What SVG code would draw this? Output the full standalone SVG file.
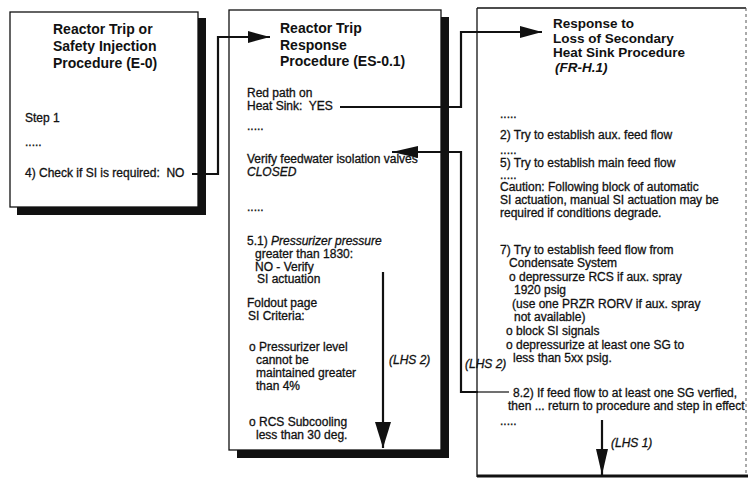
<svg xmlns="http://www.w3.org/2000/svg" width="748" height="479" viewBox="0 0 748 479">
<style>
  text { font-family: "Liberation Sans", Arial, sans-serif; fill: #111; white-space: pre; }
  .t { font-size: 14px; font-weight: bold; }
  .t3 { font-size: 13.5px; font-weight: bold; }
  .b { font-size: 12px; stroke: #111; stroke-width: 0.3; }
  .i { font-style: italic; }
  .box { fill: #ffffff; stroke: #111; stroke-width: 1.3; }
  .shadow { fill: #111; }
  .conn { fill: none; stroke: #111; stroke-width: 2.2; }
</style>
<defs>
  <marker id="ah" markerUnits="userSpaceOnUse" markerWidth="22" markerHeight="12" refX="22" refY="6" orient="auto">
    <path d="M0,0 L22,6 L0,12 z" fill="#111"/>
  </marker>
  <marker id="ahBig" markerUnits="userSpaceOnUse" markerWidth="26" markerHeight="16" refX="26" refY="8" orient="auto">
    <path d="M0,0 L26,8 L0,16 z" fill="#111"/>
  </marker>
  <marker id="ahMed" markerUnits="userSpaceOnUse" markerWidth="26" markerHeight="12" refX="26" refY="6" orient="auto">
    <path d="M0,0 L26,6 L0,12 z" fill="#111"/>
  </marker>
</defs>
<rect width="748" height="479" fill="#ffffff"/>

<g id="e0">
  <rect class="shadow" x="198" y="18" width="8" height="197"/>
  <rect class="shadow" x="17" y="207" width="189" height="8"/>
  <rect class="box" x="10" y="12" width="188" height="195"/>
  <text class="t" x="53" y="34">Reactor Trip or</text>
  <text class="t" x="53" y="51">Safety Injection</text>
  <text class="t" x="53" y="68">Procedure (E-0)</text>
  <text class="b" x="25" y="122">Step 1</text>
  <text class="b" x="25" y="146">.....</text>
  <text class="b" x="25" y="177">4) Check if SI is required:  NO</text>
</g>

<g id="es01">
  <rect class="shadow" x="441" y="17" width="8" height="441"/>
  <rect class="shadow" x="237" y="450" width="212" height="8"/>
  <rect class="box" x="229" y="10" width="212" height="440"/>
  <text class="t" x="280" y="33">Reactor Trip</text>
  <text class="t" x="280" y="49.5">Response</text>
  <text class="t" x="280" y="66">Procedure (ES-0.1)</text>
  <text class="b" x="247" y="97">Red path on</text>
  <text class="b" x="247" y="110">Heat Sink:  YES</text>
  <text class="b" x="247" y="130">.....</text>
  <text class="b" x="247" y="163">Verify feedwater isolation valves</text>
  <text class="b i" x="247" y="176">CLOSED</text>
  <text class="b" x="247" y="211">.....</text>
  <text class="b" x="247" y="245">5.1) <tspan class="i">Pressurizer pressure</tspan></text>
  <text class="b" x="255" y="258">greater than 1830:</text>
  <text class="b" x="255" y="270.5">NO - Verify</text>
  <text class="b" x="257" y="283">SI actuation</text>
  <text class="b" x="247" y="307">Foldout page</text>
  <text class="b" x="248" y="320">SI Criteria:</text>
  <text class="b" x="249" y="351">o Pressurizer level</text>
  <text class="b" x="256" y="364">cannot be</text>
  <text class="b" x="256" y="377">maintained greater</text>
  <text class="b" x="256" y="390">than 4%</text>
  <text class="b" x="249" y="426">o RCS Subcooling</text>
  <text class="b" x="256" y="438.5">less than 30 deg.</text>
  <text class="b i" x="389" y="364">(LHS 2)</text>
</g>

<g id="frh1">
  <rect x="477" y="8" width="269" height="468" fill="#ffffff"/>
  <line x1="477" y1="8" x2="746" y2="8" stroke="#111" stroke-width="1.3"/>
  <line x1="477" y1="8" x2="477" y2="477" stroke="#111" stroke-width="1.3"/>
  <line x1="746" y1="8" x2="746" y2="477" stroke="#555" stroke-width="1" stroke-dasharray="3 3"/>
  <line x1="477" y1="476" x2="748" y2="476" stroke="#111" stroke-width="3"/>
  <text class="t3" x="553" y="28">Response to</text>
  <text class="t3" x="553" y="42.5">Loss of Secondary</text>
  <text class="t3" x="553" y="57">Heat Sink Procedure</text>
  <text class="t3 i" x="555" y="71.5">(FR-H.1)</text>
  <text class="b" x="500" y="118">.....</text>
  <text class="b" x="500" y="139">2) Try to establish aux. feed flow</text>
  <text class="b" x="500" y="154">.....</text>
  <text class="b" x="500" y="167">5) Try to establish main feed flow</text>
  <text class="b" x="500" y="179">.....</text>
  <text class="b" x="500" y="191">Caution: Following block of automatic</text>
  <text class="b" x="500" y="204">SI actuation, manual SI actuation may be</text>
  <text class="b" x="500" y="217">required if conditions degrade.</text>
  <text class="b" x="500" y="254">7) Try to establish feed flow from</text>
  <text class="b" x="509" y="267">Condensate System</text>
  <text class="b" x="509" y="281">o depressurze RCS if aux. spray</text>
  <text class="b" x="514" y="294">1920 psig</text>
  <text class="b" x="512" y="308">(use one PRZR RORV if aux. spray</text>
  <text class="b" x="514" y="321">not available)</text>
  <text class="b" x="506" y="335">o block SI signals</text>
  <text class="b" x="506" y="349">o depressurize at least one SG to</text>
  <text class="b" x="513" y="362">less than 5xx psig.</text>
  <text class="b" x="513" y="397">8.2) If feed flow to at least one SG verfied,</text>
  <text class="b" x="508" y="409.5">then ... return to procedure and step in effect</text>
  <text class="b" x="500" y="425">.....</text>
  <text class="b i" x="611" y="447">(LHS 1)</text>
</g>

<g id="connectors">
  <path class="conn" d="M192,174 H218 V37 H270" marker-end="url(#ah)"/>
  <path class="conn" d="M340,107 H461 V32 H542" marker-end="url(#ah)"/>
  <line x1="477" y1="392" x2="509" y2="392" stroke="#111" stroke-width="1.2"/>
  <path class="conn" d="M478,392 H461 V152 H392" marker-end="url(#ahMed)"/>
  <path class="conn" d="M383,272 V448" marker-end="url(#ahBig)"/>
  <path class="conn" d="M602,420 V475" marker-end="url(#ahMed)"/>
  <text class="b i" x="465" y="368">(LHS 2)</text>
</g>
</svg>
